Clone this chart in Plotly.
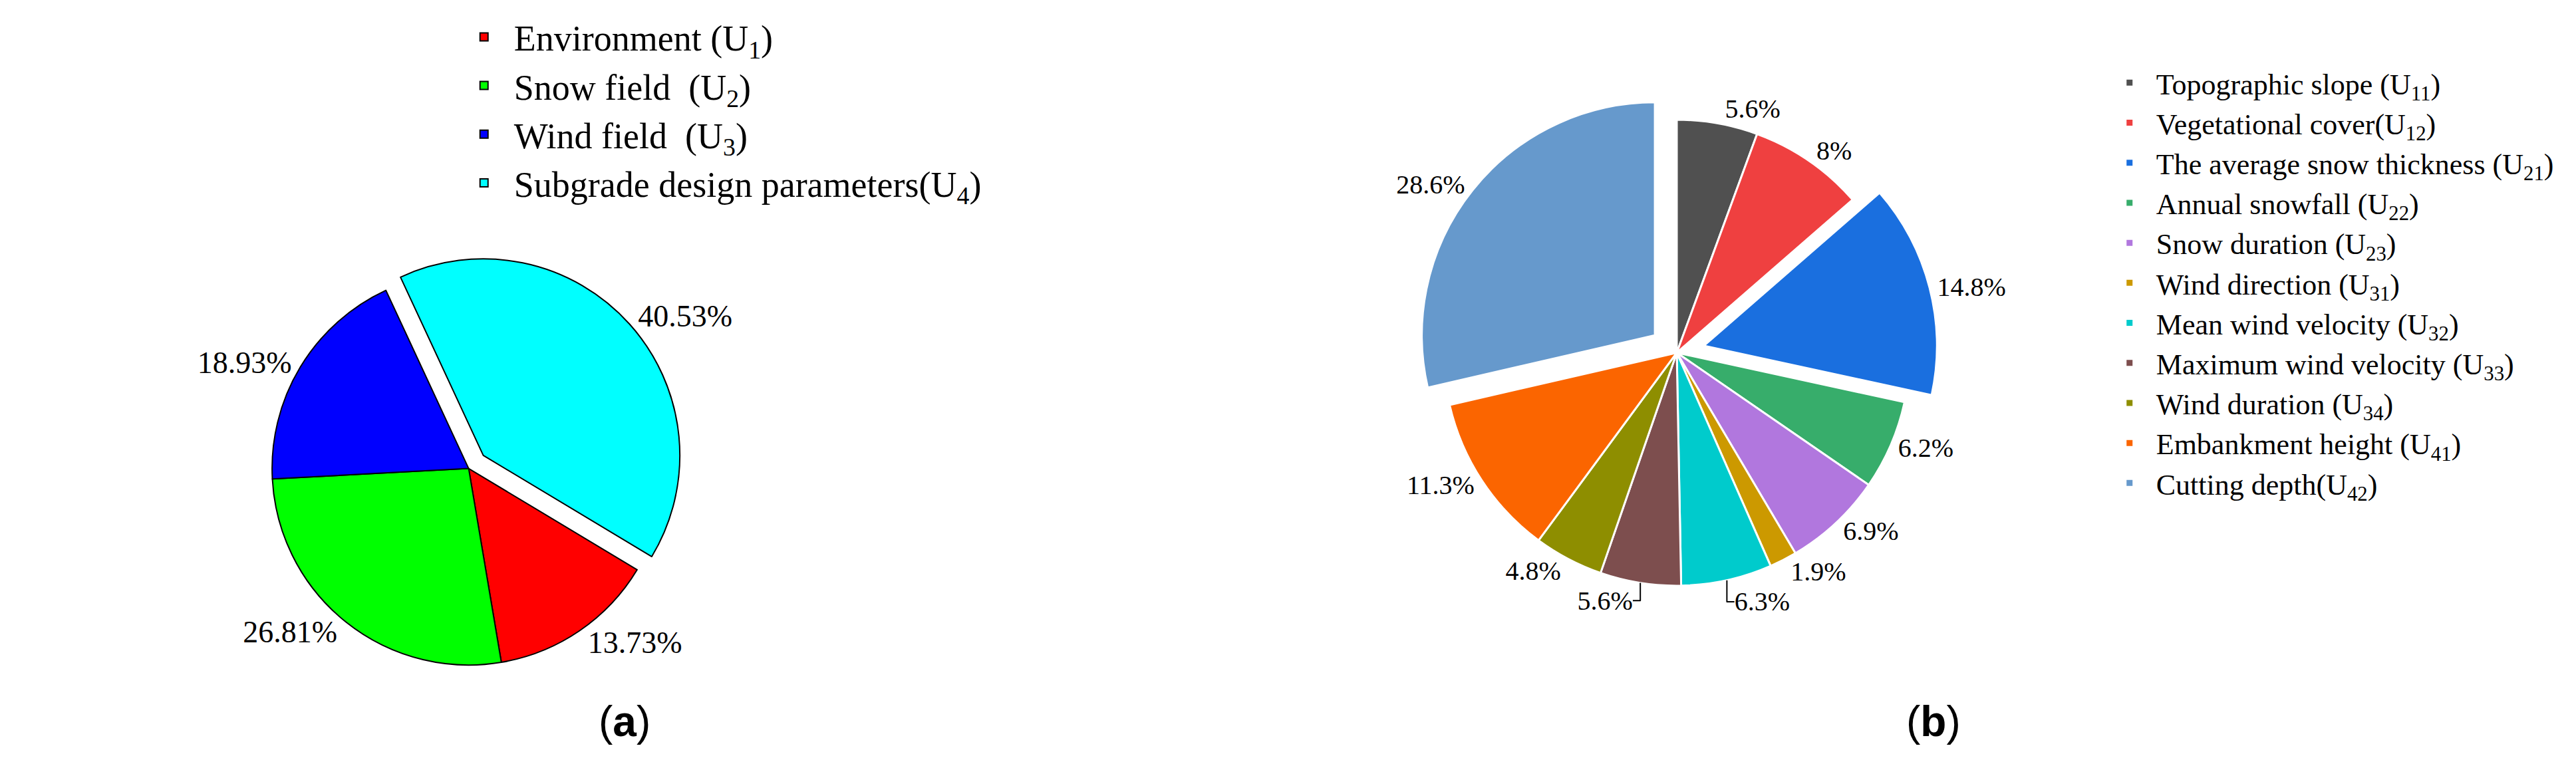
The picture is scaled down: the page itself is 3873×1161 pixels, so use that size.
import plotly.graph_objects as go

labels_a = ["Environment (U<sub>1</sub>)", "Snow field  (U<sub>2</sub>)", "Wind field  (U<sub>3</sub>)",
            "Subgrade design parameters(U<sub>4</sub>)"]
values_a = [13.73, 26.81, 18.93, 40.53]
text_a = ["13.73%", "26.81%", "18.93%", "40.53%"]
colors_a = ["#ff0000", "#00ff00", "#0000ff", "#00ffff"]
pull_a = [0, 0, 0, 0.1]

labels_b = ["Topographic slope (U<sub>11</sub>)", "Vegetational cover(U<sub>12</sub>)",
            "The average snow thickness (U<sub>21</sub>)", "Annual snowfall (U<sub>22</sub>)",
            "Snow duration (U<sub>23</sub>)", "Wind direction (U<sub>31</sub>)",
            "Mean wind velocity (U<sub>32</sub>)", "Maximum wind velocity (U<sub>33</sub>)",
            "Wind duration (U<sub>34</sub>)", "Embankment height (U<sub>41</sub>)",
            "Cutting depth(U<sub>42</sub>)"]
values_b = [5.6, 8, 14.8, 6.2, 6.9, 1.9, 6.3, 5.6, 4.8, 11.3, 28.6]
text_b = ["5.6%", "8%", "14.8%", "6.2%", "6.9%", "1.9%", "6.3%", "5.6%", "4.8%", "11.3%", "28.6%"]
colors_b = ["#505050", "#ef4040", "#1a6fdf", "#37ad6b", "#b177de", "#cc9900",
            "#00cbcc", "#7d4e4e", "#8e8e00", "#fb6500", "#6699cc"]
pull_b = [0, 0, 0.12, 0, 0, 0, 0, 0, 0, 0, 0.12]

FONT = "Liberation Serif"
fig = go.Figure()
fig.add_trace(go.Pie(
    labels=labels_a, values=values_a, text=text_a, sort=False, direction="clockwise",
    rotation=121, pull=pull_a, textinfo="text", textposition="outside",
    marker=dict(colors=colors_a, line=dict(color="black", width=2)),
    textfont=dict(size=46, family=FONT, color="black"),
    domain=dict(x=[0.01, 0.25], y=[0.12, 0.68]), legend="legend", showlegend=True))
fig.add_trace(go.Pie(
    labels=labels_b, values=values_b, text=text_b, sort=False, direction="clockwise",
    rotation=0, pull=pull_b, textinfo="text", textposition="outside",
    marker=dict(colors=colors_b, line=dict(color="white", width=3)),
    textfont=dict(size=40, family=FONT, color="black"),
    domain=dict(x=[0.52, 0.735], y=[0.2, 0.9]), legend="legend2", showlegend=True))

fig.update_layout(
    width=3873, height=1161, paper_bgcolor="white", plot_bgcolor="white",
    margin=dict(l=0, r=0, t=0, b=0),
    font=dict(family=FONT, color="black"),
    legend=dict(x=0.124, y=0.995, xanchor="left", yanchor="top", font=dict(size=54, family=FONT),
                itemwidth=80, traceorder="normal"),
    legend2=dict(x=0.803, y=0.93, xanchor="left", yanchor="top", font=dict(size=44, family=FONT),
                 itemwidth=70, traceorder="normal"),
    annotations=[
        dict(text="(<b>a</b>)", x=0.183, y=0.04, xref="paper", yref="paper", showarrow=False,
             font=dict(size=64, family="Liberation Sans")),
        dict(text="(<b>b</b>)", x=0.745, y=0.04, xref="paper", yref="paper", showarrow=False,
             font=dict(size=64, family="Liberation Sans")),
    ],
)
fig.write_html("out.html")
